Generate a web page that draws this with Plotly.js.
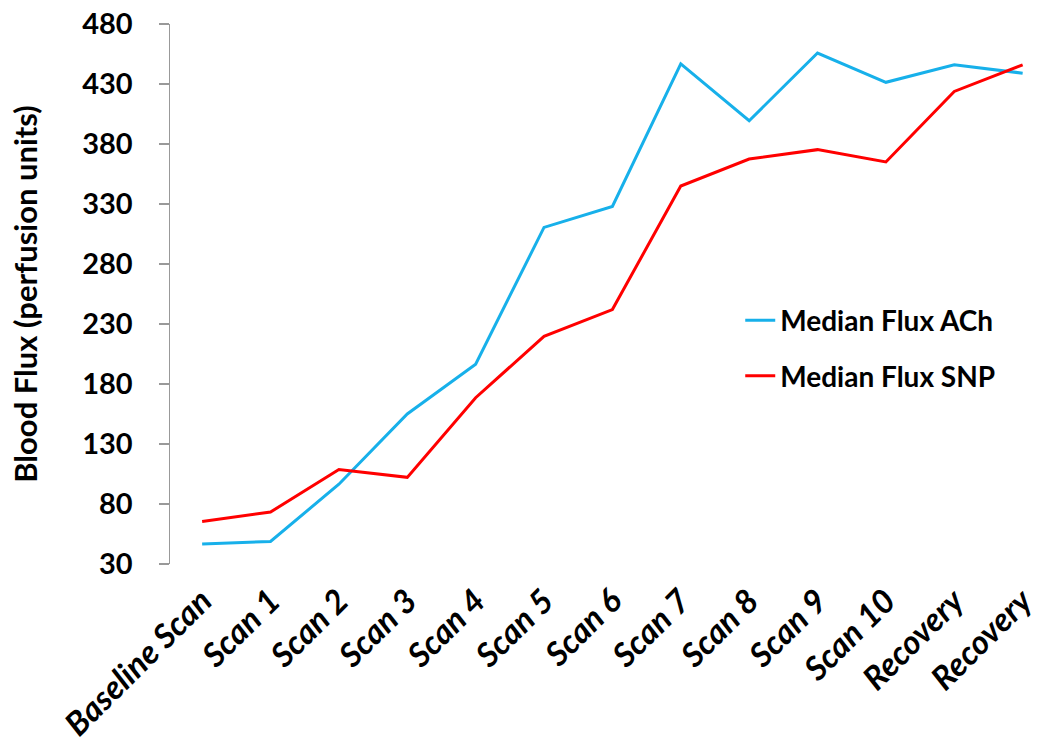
<!DOCTYPE html>
<html>
<head>
<meta charset="utf-8">
<script src="https://cdn.plot.ly/plotly-3.0.1.min.js"></script>
<style>html,body{margin:0;padding:0;background:#fff;overflow:hidden}</style>
</head>
<body>
<div id="chart" style="width:1050px;height:747px"></div>
<script>
const categories = ["Baseline Scan","Scan 1","Scan 2","Scan 3","Scan 4","Scan 5","Scan 6","Scan 7","Scan 8","Scan 9","Scan 10","Recovery","Recovery"];
const fluxACh = [46.7, 48.8, 96.5, 155, 196.5, 310.5, 328, 446.7, 399.4, 455.8, 431.4, 446, 439];
const fluxSNP = [65.5, 73.3, 108.8, 102.2, 168.6, 219.7, 242, 345, 367.5, 375.3, 365, 423.8, 446];
const yTicks = [30, 80, 130, 180, 230, 280, 330, 380, 430, 480];

const idx = categories.map((c, i) => i);
const bounds = categories.map((c, i) => i - 0.5).concat([categories.length - 0.5]);
const font = "Lato, 'Open Sans', sans-serif";

const traces = [
  {x: idx, y: fluxACh, type: 'scatter', mode: 'lines', name: 'Median Flux ACh',
   line: {color: '#17B0EA', width: 3}, legendgroup: 'a', xaxis: 'x2'},
  {x: idx, y: fluxSNP, type: 'scatter', mode: 'lines', name: 'Median Flux SNP',
   line: {color: '#FF0000', width: 3}, legendgroup: 'b', xaxis: 'x2'}
];

const xr = [-0.47, 12.4];
const layout = {
  width: 1050, height: 747,
  margin: {l: 170, r: 0, t: 24, b: 183},
  paper_bgcolor: '#fff', plot_bgcolor: '#fff',
  showlegend: true,
  legend: {x: 0.648, y: 0.497, xanchor: 'left', yanchor: 'top', bgcolor: 'rgba(0,0,0,0)',
    font: {family: font, size: 28, color: '#000', weight: 'bold'}, tracegroupgap: 16},
  xaxis: {range: xr, tickmode: 'array', tickvals: bounds, ticktext: bounds.map(() => ''),
    ticks: 'outside', ticklen: 9, tickcolor: '#999', tickwidth: 1.5,
    showline: true, linecolor: '#999', linewidth: 1.5, showgrid: false, zeroline: false, fixedrange: true},
  xaxis2: {range: xr, overlaying: 'x', side: 'bottom', tickmode: 'array', tickvals: idx, ticktext: categories,
    ticks: '', tickangle: -45, showline: false, showgrid: false, zeroline: false, ticklabelstandoff: 10,
    tickfont: {family: font, size: 33, color: '#000', weight: 'bold', style: 'italic'}},
  yaxis: {range: [30, 480], tickmode: 'array', tickvals: yTicks,
    ticks: 'outside', ticklen: 10, tickcolor: '#999', tickwidth: 1.5, ticklabelstandoff: 20,
    showline: true, linecolor: '#999', linewidth: 1.5, showgrid: false, zeroline: false,
    tickfont: {family: font, size: 29, color: '#000', weight: 'bold'},
    title: {text: 'Blood Flux (perfusion units)', font: {family: font, size: 31, color: '#000', weight: 'bold'}, standoff: 35}}
};

Plotly.newPlot('chart', traces, layout, {displayModeBar: false, staticPlot: true});
</script>
</body>
</html>
